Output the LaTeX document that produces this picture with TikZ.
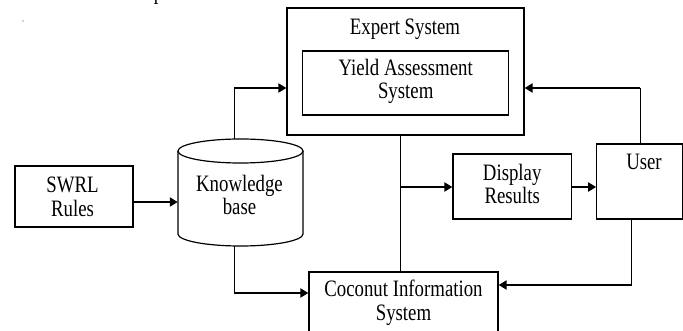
\documentclass[tikz,border=0pt]{standalone}
\usepackage{fontspec}
\setmainfont{Liberation Serif}[FakeStretch=0.8]
\usetikzlibrary{arrows.meta}
\begin{document}
\begin{tikzpicture}[x=1pt,y=-1pt,
  box/.style={draw, line width=1.2pt, inner sep=0pt, align=center},
  lbl/.style={font=\fontsize{23.5}{23.5}\selectfont, align=center, inner sep=0pt},
  thinline/.style={line width=1pt},
  arr/.style={line width=2.6pt, -{Triangle[length=8pt,width=9pt]}},
  ]
\useasboundingbox (0,0) rectangle (683,331);
% stray marks at the top
\fill[gray!70] (23,21) circle (0.8);
\node[lbl, anchor=base] (ptop) at (158.5,-0.5) {p};
% boxes
\node[box, minimum width=237, minimum height=127] (es) at (405.5,71.5) {};
\node[lbl, anchor=base] (est) at (405,35) {Expert System};
\node[box, minimum width=206, minimum height=64] (yas) at (405.7,83) {};
\node[lbl] (yast) at (405.7,81.5) {Yield Assessment\\System};
\node[box, minimum width=118, minimum height=61] (swrl) at (74,196.5) {};
\node[lbl] (swrlt) at (72.5,197) {SWRL\\Rules};
% knowledge base cylinder
\draw[line width=1.2pt] (178,151) -- (178,234) arc[start angle=180, end angle=0, x radius=62.5, y radius=12] -- (303,151);
\draw[line width=1.2pt] (240.5,151) ellipse [x radius=62.5, y radius=12];
\node[minimum width=125, minimum height=107, inner sep=0pt] (kb) at (240.5,192.5) {};
\node[lbl] (kbt) at (239.5,195) {Knowledge\\base};
\node[box, minimum width=118.4, minimum height=65] (ds) at (512.2,186.5) {};
\node[lbl] (dst) at (512.2,184) {Display\\Results};
\node[box, minimum width=85.5, minimum height=75] (user) at (639.5,181.5) {};
\node[lbl, anchor=base] (usert) at (644,170) {User};
\node[box, minimum width=189, minimum height=73] (cis) at (403.5,308.5) {};
\node[lbl] (cist) at (403.5,303) {Coconut Information\\System};
% connectors
\coordinate (kbtop) at (234,88);
\draw[thinline] (kbtop |- kb.north) -- (kbtop);
\draw[arr] (kbtop) -- (kbtop -| es.west);
\coordinate (kbbot) at (234,293);
\draw[thinline] (kbbot |- kb.south) -- (kbbot);
\draw[arr] (kbbot) -- (kbbot -| cis.west);
\draw[arr] (swrl.east |- 0,202) -- (kb.west |- 0,202);
\coordinate (esdown) at (400.7,187);
\draw[thinline] (esdown |- es.south) -- (esdown |- cis.north);
\draw[arr] (esdown) -- (esdown -| ds.west);
\draw[arr] (ds.east |- esdown) -- (user.west |- esdown);
\coordinate (userup) at (640,88);
\draw[thinline] (userup |- user.north) -- (userup);
\draw[arr] (userup) -- (userup -| es.east);
\coordinate (userdown) at (631.5,285);
\draw[thinline] (userdown |- user.south) -- (userdown);
\draw[arr] (userdown) -- (userdown -| cis.east);
\end{tikzpicture}
\end{document}
